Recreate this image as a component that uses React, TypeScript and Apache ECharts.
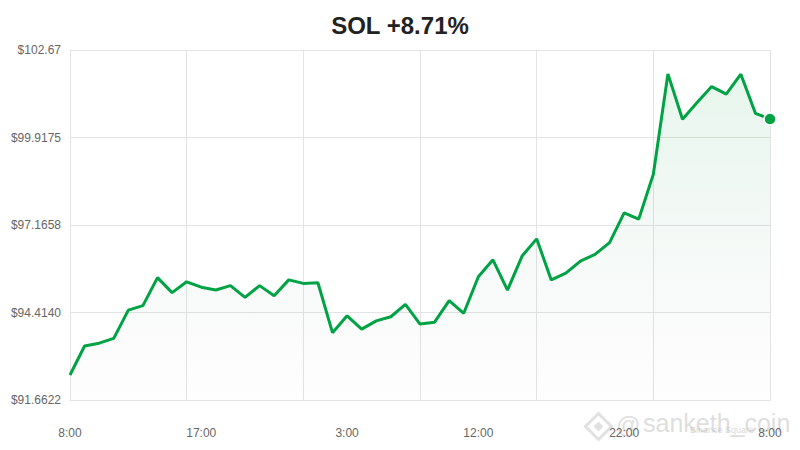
import React, { useEffect, useRef } from "react";
import * as echarts from "echarts";

const titleText = "SOL +8.71%";
const startHour = 8;
const prices = [
  92.45, 93.36, 93.45, 93.6, 94.49, 94.63, 95.51, 95.04, 95.38, 95.21,
  95.12, 95.26, 94.89, 95.26, 94.94, 95.44, 95.33, 95.35, 93.78, 94.31,
  93.89, 94.15, 94.28, 94.67, 94.05, 94.11, 94.79, 94.39, 95.54, 96.07,
  95.12, 96.19, 96.73, 95.44, 95.65, 96.03, 96.24, 96.61, 97.55, 97.35,
  98.76, 101.92, 100.49, 101.02, 101.52, 101.28, 101.91, 100.68, 100.5,
];
const categories = prices.map((_, i) => `${(startHour + i) % 24}:00`);
const labelIndices = [0, 9, 19, 28, 38, 48];
const yMin = 91.6622;
const yMax = 102.67;
const yTickLabels = ["$91.6622", "$94.4140", "$97.1658", "$99.9175", "$102.67"];

const GREEN = "#00a344";

export default function App() {
  const ref = useRef<HTMLDivElement>(null);
  useEffect(() => {
    if (!ref.current) return;
    const chart = echarts.init(ref.current, null, { renderer: "svg" });
    const last = prices.length - 1;
    chart.setOption({
      animation: false,
      backgroundColor: "#ffffff",
      title: {
        text: titleText,
        left: "center",
        top: 8,
        textStyle: {
          fontFamily: "Liberation Sans, Arial, sans-serif",
          fontSize: 24,
          fontWeight: "bold",
          color: "#222222",
        },
      },
      grid: { left: 70, right: 30, top: 50, bottom: 50, containLabel: false },
      xAxis: {
        type: "category",
        data: categories,
        boundaryGap: false,
        axisLine: { show: true, lineStyle: { color: "#e3e3e3" } },
        axisTick: { show: false },
        axisLabel: {
          interval: (idx: number) => labelIndices.includes(idx),
          color: "#666666",
          fontFamily: "Liberation Sans, Arial, sans-serif",
          fontSize: 12,
          margin: 27,
        },
        splitLine: { show: true, interval: 7, lineStyle: { color: "#e3e3e3", width: 1 } },
      },
      yAxis: [
        {
          type: "value",
          min: yMin,
          max: yMax,
          show: false,
          splitLine: { show: false },
        },
        {
          type: "value",
          position: "left",
          min: 0,
          max: yTickLabels.length - 1,
          interval: 1,
          axisLine: { show: false },
          axisTick: { show: false },
          axisLabel: {
            formatter: (v: number) => yTickLabels[Math.round(v)] ?? "",
            color: "#666666",
            fontFamily: "Liberation Sans, Arial, sans-serif",
            fontSize: 12,
            margin: 9,
          },
          splitLine: { show: true, lineStyle: { color: "#e3e3e3", width: 1 } },
        },
      ],
      series: [
        {
          type: "line",
          yAxisIndex: 0,
          data: prices.map((v, i) =>
            i === last
              ? {
                  value: v,
                  symbol: "circle",
                  symbolSize: 12,
                  itemStyle: { color: GREEN, borderColor: "#ffffff", borderWidth: 1.5 },
                }
              : { value: v, symbol: "none" }
          ),
          showSymbol: true,
          lineStyle: { color: GREEN, width: 3 },
          itemStyle: { color: GREEN },
          areaStyle: {
            color: new echarts.graphic.LinearGradient(0, 0, 0, 1, [
              { offset: 0, color: "rgba(0,163,68,0.14)" },
              { offset: 1, color: "rgba(120,140,130,0.02)" },
            ]),
          },
          z: 3,
        },
      ],
      graphic: [
        {
          type: "group",
          left: 583,
          top: 411,
          silent: true,
          children: [
            {
              type: "polygon",
              shape: { points: [[13, 0], [26, 13], [13, 26], [0, 13]] },
              style: { fill: "none", stroke: "rgba(200,200,200,0.55)", lineWidth: 3 },
            },
            {
              type: "polygon",
              shape: { points: [[13, 8], [18, 13], [13, 18], [8, 13]] },
              style: { fill: "rgba(200,200,200,0.55)" },
            },
          ],
        },
        {
          type: "text",
          left: 616,
          top: 412,
          silent: true,
          style: {
            text: "@",
            fontFamily: "Liberation Sans, Arial, sans-serif",
            fontSize: 24,
            fill: "rgba(190,190,190,0.5)",
          },
        },
        {
          type: "text",
          left: 643,
          top: 410,
          silent: true,
          style: {
            text: "sanketh_coin",
            fontFamily: "Liberation Sans, Arial, sans-serif",
            fontSize: 25,
            fill: "rgba(190,190,190,0.5)",
          },
        },
        {
          type: "text",
          left: 690,
          top: 425,
          silent: true,
          style: {
            text: "Binance Square",
            fontFamily: "Liberation Sans, Arial, sans-serif",
            fontSize: 9,
            fill: "rgba(190,190,190,0.6)",
          },
        },
      ],
    });
    return () => chart.dispose();
  }, []);
  return (
    <div
      ref={ref}
      style={{ position: "fixed", left: 0, top: 0, width: 800, height: 450 }}
    />
  );
}
